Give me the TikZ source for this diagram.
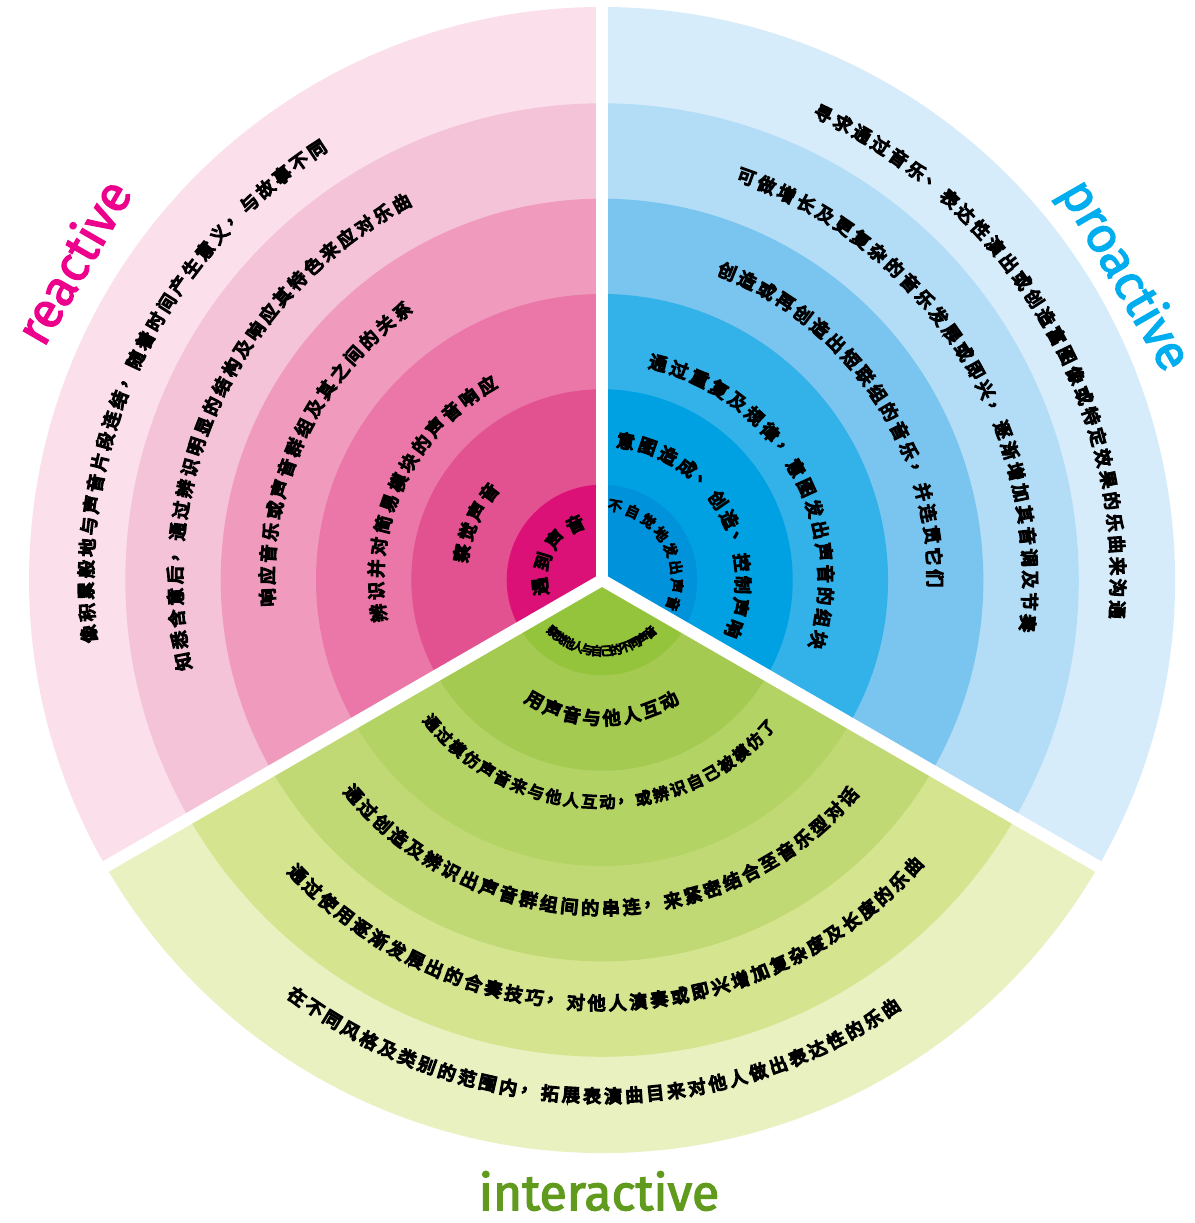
\documentclass[tikz,border=0pt]{standalone}
\usepackage{fontspec}
\setmainfont{Fira Sans}
\newfontfamily\labfont[FakeBold=2.5]{Fira Sans}
\newfontfamily\cjk[FakeBold=8]{Noto Sans CJK SC}
\definecolor{pA}{HTML}{FBE0EC}
\definecolor{pB}{HTML}{F5C3D8}
\definecolor{pC}{HTML}{F09BBE}
\definecolor{pD}{HTML}{EA77A7}
\definecolor{pE}{HTML}{E35290}
\definecolor{pF}{HTML}{DB1177}
\definecolor{bA}{HTML}{D7ECFA}
\definecolor{bB}{HTML}{B3DDF6}
\definecolor{bC}{HTML}{79C5EF}
\definecolor{bD}{HTML}{33B1E9}
\definecolor{bE}{HTML}{00A1E2}
\definecolor{bF}{HTML}{0092DA}
\definecolor{gA}{HTML}{EAF1C1}
\definecolor{gB}{HTML}{D5E48F}
\definecolor{gC}{HTML}{C1D975}
\definecolor{gD}{HTML}{B3D364}
\definecolor{gE}{HTML}{A4CA52}
\definecolor{gF}{HTML}{93C43B}
\definecolor{reactc}{HTML}{EC008C}
\definecolor{proc}{HTML}{00AEEF}
\definecolor{interc}{HTML}{609B1E}
\makeatletter
\newcount\at@n
\newcount\at@i
% #1 name, #2 style, #3 radius, #4 start angle, #5 end angle, #6 rotation offset, #7 text
\newcommand\arctext[7]{%
  \at@n=0
  \@tfor\at@c:=#7\do{\advance\at@n by 1 }%
  \at@i=0
  \@tfor\at@c:=#7\do{%
    \pgfmathsetmacro\at@a{#4+\the\at@i*((#5)-(#4))/(\the\at@n-1)}%
    \node[#2, rotate=\at@a#6] (#1-\the\at@i) at (\at@a:#3) {\at@c};%
    \advance\at@i by 1 }%
}
\makeatother
\begin{document}
\begin{tikzpicture}[x=1pt,y=1pt,
  chrL/.style={inner sep=0pt, font=\cjk\fontsize{18}{18}\selectfont},
  chrM/.style={inner sep=0pt, font=\cjk\fontsize{16}{16}\selectfont},
  chrS/.style={inner sep=0pt, font=\cjk\fontsize{14}{14}\selectfont},
  chrT/.style={inner sep=0pt, font=\cjk\fontsize{12}{12}\selectfont},
  gap/.style={draw=white, line width=12pt},
  lab/.style={inner sep=0pt, font=\labfont\fontsize{50}{50}\selectfont}]
\fill[white] (0,0) rectangle (1194,1223);
\useasboundingbox (0,0) rectangle (1194,1223);
\coordinate (C) at (602,643);
\begin{scope}[shift={(602,643)}]
  % pink sector
  \foreach \r/\c in {573/pA,476.7/pB,381.3/pC,286/pD,190.7/pE,95.3/pF}
    \fill[\c] (0,0) -- (90:\r) arc[start angle=90, end angle=210, radius=\r] -- cycle;
  % blue sector
  \foreach \r/\c in {573/bA,476.7/bB,381.3/bC,286/bD,190.7/bE,95.3/bF}
    \fill[\c] (0,0) -- (-30:\r) arc[start angle=-30, end angle=90, radius=\r] -- cycle;
  % green sector
  \foreach \r/\c in {573/gA,476.7/gB,381.3/gC,286/gD,190.7/gE,95.3/gF}
    \fill[\c] (0,0) -- (210:\r) arc[start angle=210, end angle=330, radius=\r] -- cycle;
  % white gaps
  \draw[gap] (0,0) -- (90:640);
  \draw[gap] (0,0) -- (210:640);
  \draw[gap] (0,0) -- (330:640);
  % pink texts
  \arctext{p1}{chrL}{516}{186}{123.5}{-90}{像积累般地与声音片段连结，随着时间产生意义，与故事不同}
  \arctext{p2}{chrL}{427}{191}{118}{-90}{知悉含意后，通过辨识明显的结构及响应其特色来应对乐曲}
  \arctext{p3}{chrL}{335}{183}{126.6}{-90}{响应音乐或声音群组及其之间的关系}
  \arctext{p4}{chrL}{226}{188.4}{120.5}{-90}{辨识并对简易模块的声音响应}
  \arctext{p5}{chrL}{143}{169.2}{142.3}{-90}{察觉声音}
  \arctext{p6}{chrL}{62}{186}{115.7}{-90}{遇到声音}
  % blue texts
  \arctext{b1}{chrL}{516}{64.6}{-3.3}{-90}{寻求通过音乐、表达性演出或创造富图像或特定效果的乐曲来沟通}
  \arctext{b2}{chrL}{428}{70.3}{-5.8}{-90}{可做增长及更复杂的音乐发展或即兴，逐渐增加其音调及节奏}
  \arctext{b3}{chrL}{333}{67.9}{0.3}{-90}{创造或再创造出短联组的音乐，并连贯它们}
  \arctext{b4}{chrL}{224}{75.5}{-15.5}{-90}{通过重复及规律，意图发出声音的组块}
  \arctext{b5}{chrL}{141}{80.3}{-20.3}{-90}{意图造成、创造、控制声响}
  \arctext{b6}{chrS}{75}{80}{-18.4}{-90}{不自觉地发出声音}
  % green texts
  \arctext{g1}{chrL}{516}{233.8}{304}{+90}{在不同风格及类别的范围内，拓展表演曲目来对他人做出表达性的乐曲}
  \arctext{g2}{chrL}{423}{224}{317.4}{+90}{通过使用逐渐发展出的合奏技巧，对他人演奏或即兴增加复杂度及长度的乐曲}
  \arctext{g3}{chrL}{328}{220.8}{318.7}{+90}{通过创造及辨识出声音群组间的串连，来紧密结合至音乐型对话}
  \arctext{g4}{chrM}{222}{220}{318.1}{+90}{通过模仿声音来与他人互动，或辨识自己被模仿了}
  \arctext{g5}{chrL}{138}{240.7}{299}{+90}{用声音与他人互动}
  \arctext{g6}{chrT}{71}{226.7}{312.7}{+90}{察觉他人与自己的不同声音}
\end{scope}
\node[lab, text=reactc, rotate=60] (reactive) at (72,962) {reactive};
\node[lab, text=proc, rotate=-60] (proactive) at (1124,947) {proactive};
\node[lab, text=interc] (interactive) at (599,32) {interactive};
\end{tikzpicture}
\end{document}
